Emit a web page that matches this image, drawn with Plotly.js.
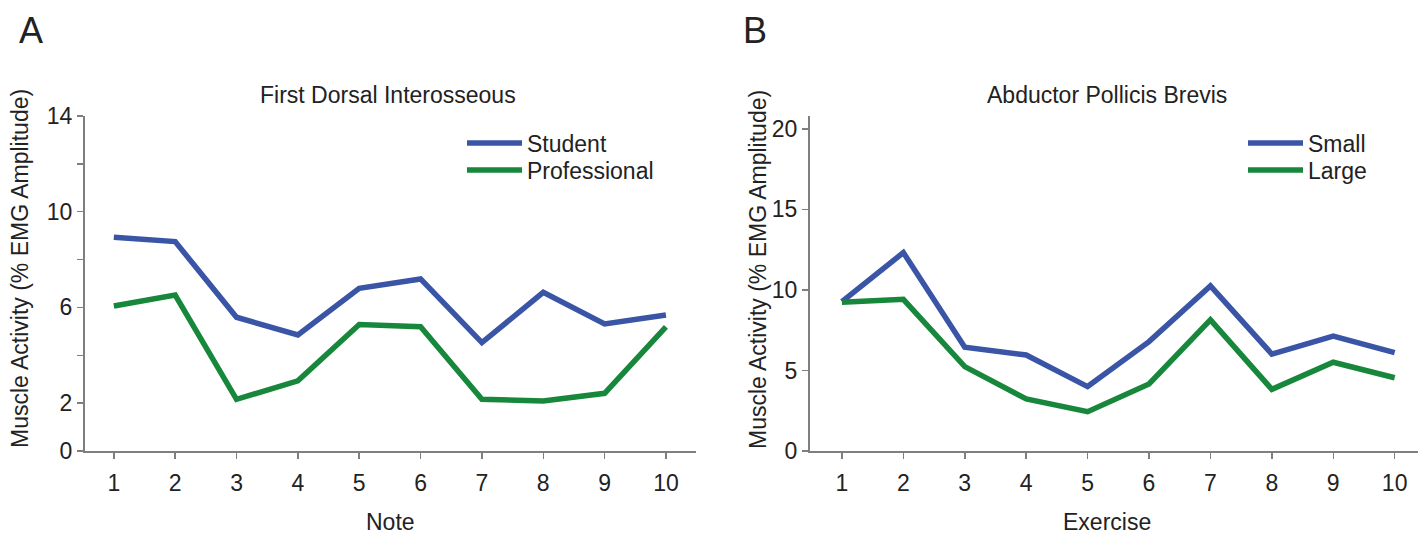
<!DOCTYPE html>
<html>
<head>
<meta charset="utf-8">
<script src="https://cdn.plot.ly/plotly-3.0.1.min.js"></script>
<style>html,body{margin:0;padding:0;background:#fff;}#chart{width:1418px;height:535px;}</style>
</head>
<body>
<div id="chart"></div>
<script>
// ---- Data ----
var notes = [1, 2, 3, 4, 5, 6, 7, 8, 9, 10];
var student = [8.93, 8.75, 5.59, 4.85, 6.80, 7.19, 4.53, 6.63, 5.31, 5.68];
var professional = [6.06, 6.52, 2.16, 2.93, 5.29, 5.19, 2.16, 2.09, 2.41, 5.19];

var exercises = [1, 2, 3, 4, 5, 6, 7, 8, 9, 10];
var small = [9.27, 12.32, 6.44, 5.96, 4.00, 6.79, 10.25, 6.02, 7.14, 6.11];
var large = [9.23, 9.42, 5.24, 3.23, 2.44, 4.16, 8.14, 3.83, 5.51, 4.55];

var leftYTickVals = [0, 2, 4, 6, 8, 10, 12, 14];
var leftYTickText = ['0', '2', '', '6', '', '10', '', '14'];
var rightYTickVals = [0, 5, 10, 15, 20];
var rightYTickText = ['0', '5', '10', '15', '20'];
var xTickVals = [1, 2, 3, 4, 5, 6, 7, 8, 9, 10];

var titleA = 'First Dorsal Interosseous';
var titleB = 'Abductor Pollicis Brevis';
var yTitle = 'Muscle Activity (% EMG Amplitude)';

// ---- Layout helpers (pixel -> paper) ----
var W = 1418, H = 535;
function px(x) { return x / W; }
function py(y) { return 1 - y / H; }

var BLUE = '#3a54a6';
var GREEN = '#17873b';
var FONT = '"Liberation Sans", Arial, Helvetica, sans-serif';
var TXT = '#222222';
var AXC = '#7f7f7f';
var FS = 23;

var traces = [
  {x: notes, y: student, type: 'scatter', mode: 'lines', name: 'Student', showlegend: true,
   line: {color: BLUE, width: 5.5}, xaxis: 'x', yaxis: 'y', legend: 'legend'},
  {x: notes, y: professional, type: 'scatter', mode: 'lines', name: 'Professional', showlegend: true,
   line: {color: GREEN, width: 5.5}, xaxis: 'x', yaxis: 'y', legend: 'legend2'},
  {x: exercises, y: small, type: 'scatter', mode: 'lines', name: 'Small', showlegend: true,
   line: {color: BLUE, width: 5.5}, xaxis: 'x2', yaxis: 'y2', legend: 'legend3'},
  {x: exercises, y: large, type: 'scatter', mode: 'lines', name: 'Large', showlegend: true,
   line: {color: GREEN, width: 5.5}, xaxis: 'x2', yaxis: 'y2', legend: 'legend4'}
];

var axisCommon = {
  showgrid: false, zeroline: false, showline: true, linecolor: AXC, linewidth: 2,
  ticks: 'outside', ticklen: 6, tickwidth: 1.5, tickcolor: AXC,
  tickfont: {family: FONT, size: FS, color: TXT}
};

function leg(x, y) {
  return {
    x: px(x), y: py(y), xanchor: 'left', yanchor: 'middle', visible: true,
    bgcolor: 'rgba(0,0,0,0)', font: {family: FONT, size: FS, color: TXT},
    itemwidth: 55, borderwidth: 0
  };
}

function ann(text, x, y, size, angle) {
  return {text: text, x: px(x), y: py(y), xref: 'paper', yref: 'paper', showarrow: false,
          xanchor: 'center', yanchor: 'middle', textangle: angle || 0,
          font: {family: FONT, size: size, color: TXT}};
}

var layout = {
  width: W, height: H,
  margin: {l: 0, r: 0, t: 0, b: 0},
  showlegend: true,
  paper_bgcolor: '#ffffff', plot_bgcolor: '#ffffff',
  font: {family: FONT, color: TXT, size: FS},
  xaxis: Object.assign({}, axisCommon, {
    domain: [px(85), px(696)], range: [0.53, 10.49], anchor: 'y',
    tickmode: 'array', tickvals: xTickVals, ticklabelstandoff: 4
  }),
  yaxis: Object.assign({}, axisCommon, {
    domain: [py(451), py(116)], range: [0, 14], anchor: 'x',
    tickmode: 'array', tickvals: leftYTickVals, ticktext: leftYTickText
  }),
  xaxis2: Object.assign({}, axisCommon, {
    domain: [px(810), 1], range: [0.48, 10.38], anchor: 'y2',
    tickmode: 'array', tickvals: xTickVals, ticklabelstandoff: 4
  }),
  yaxis2: Object.assign({}, axisCommon, {
    domain: [py(451), py(116)], range: [0, 20.8], anchor: 'x2',
    tickmode: 'array', tickvals: rightYTickVals, ticktext: rightYTickText
  }),
  legend: leg(462, 143),
  legend2: leg(462, 170),
  legend3: leg(1243, 143),
  legend4: leg(1243, 170),
  annotations: [
    ann('A', 31, 30, 36),
    ann('B', 755, 30, 36),
    ann(titleA, 388, 95, FS),
    ann(titleB, 1107, 95, FS),
    ann(yTitle, 20, 269, FS, -90),
    ann(yTitle, 758, 269, FS, -90),
    ann('Note', 390, 522, FS),
    ann('Exercise', 1107, 522, FS)
  ]
};

Plotly.newPlot('chart', traces, layout, {displayModeBar: false, staticPlot: true});
</script>
</body>
</html>
